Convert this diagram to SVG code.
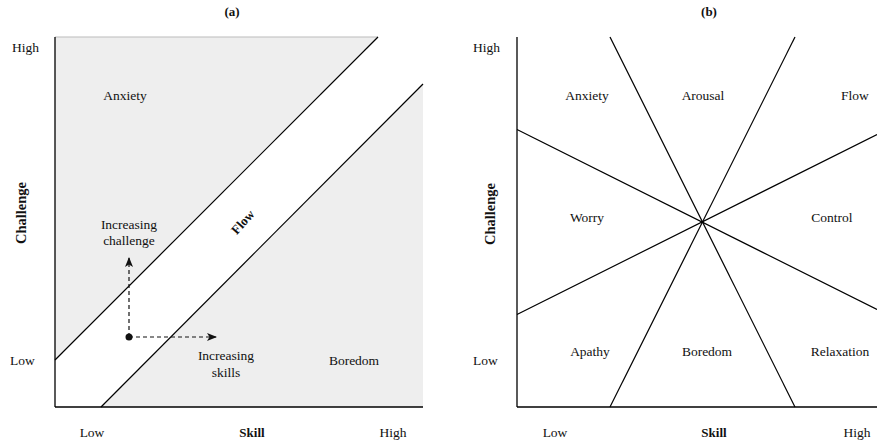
<svg xmlns="http://www.w3.org/2000/svg" width="877" height="441" viewBox="0 0 877 441" font-family="'Liberation Serif', 'Times New Roman', Times, serif">
<style>
text{font-family:'Liberation Serif','Times New Roman',Times,serif;fill:#111;font-size:13.5px}
.b{font-weight:bold;font-size:13px}
.c{text-anchor:middle}
.ax{stroke:#000;stroke-width:1.3;fill:none}
.ln{stroke:#000;stroke-width:1.2;fill:none}
.dash{stroke:#111;stroke-width:1.2;stroke-dasharray:4 3;fill:none}
.gray{fill:#eeeeee}
</style>
<defs>
<marker id="ah" viewBox="0 0 10 10" refX="9" refY="5" markerWidth="10" markerHeight="10" markerUnits="userSpaceOnUse" orient="auto">
<path d="M0,1 L10,5 L0,9 L2.5,5 Z" fill="#111"/>
</marker>
</defs>
<rect width="877" height="441" fill="#fff"/>

<g id="panel-a">
<polygon class="gray" points="55,37 378,37 55,360"/>
<polygon class="gray" points="101,407 423,84 423,407"/>
<line x1="55" y1="37" x2="378" y2="37" stroke="#bbb" stroke-width="1"/>
<line class="ln" x1="55" y1="360" x2="378" y2="37"/>
<line class="ln" x1="101" y1="407" x2="423" y2="84"/>
<line class="ax" x1="55" y1="37" x2="55" y2="407"/>
<line class="ax" x1="55" y1="407" x2="423" y2="407"/>
<text class="b c" x="232" y="16">(a)</text>
<text x="12" y="52">High</text>
<text x="10" y="365">Low</text>
<text class="c" x="92" y="437">Low</text>
<text class="b c" x="252" y="437">Skill</text>
<text class="c" x="393" y="437">High</text>
<text class="b c" style="font-size:14.5px" transform="translate(26,213) rotate(-90)">Challenge</text>
<text class="c" x="125" y="100">Anxiety</text>
<text class="c" x="354" y="365">Boredom</text>
<text class="b c" transform="translate(246,225) rotate(-48)">Flow</text>
</g>

<g id="arrows">
<line class="dash" x1="129" y1="337" x2="129" y2="258" marker-end="url(#ah)"/>
<line class="dash" x1="129" y1="337" x2="216" y2="337" marker-end="url(#ah)"/>
<circle cx="129" cy="337" r="3.5" fill="#111"/>
<text class="c" x="129" y="229">Increasing</text>
<text class="c" x="129" y="245">challenge</text>
<text class="c" x="226" y="360">Increasing</text>
<text class="c" x="226" y="377">skills</text>
</g>

<g id="panel-b">
<line class="ln" x1="610" y1="37" x2="795" y2="407"/>
<line class="ln" x1="795" y1="37" x2="610" y2="407"/>
<line class="ln" x1="517" y1="129.5" x2="877" y2="309.5"/>
<line class="ln" x1="517" y1="314.5" x2="877" y2="134.5"/>
<line class="ax" x1="517" y1="37" x2="517" y2="407"/>
<line class="ax" x1="517" y1="407" x2="877" y2="407"/>
<text class="b c" x="709" y="16">(b)</text>
<text x="473" y="52">High</text>
<text x="473" y="365">Low</text>
<text class="c" x="555" y="437">Low</text>
<text class="b c" x="714" y="437">Skill</text>
<text class="c" x="857" y="437">High</text>
<text class="b c" style="font-size:14.5px" transform="translate(495,214) rotate(-90)">Challenge</text>
<text class="c" x="587" y="100">Anxiety</text>
<text class="c" x="703" y="100">Arousal</text>
<text class="c" x="855" y="100">Flow</text>
<text class="c" x="587" y="222">Worry</text>
<text class="c" x="832" y="222">Control</text>
<text class="c" x="590" y="356">Apathy</text>
<text class="c" x="707" y="356">Boredom</text>
<text class="c" x="840" y="356">Relaxation</text>
</g>
</svg>
